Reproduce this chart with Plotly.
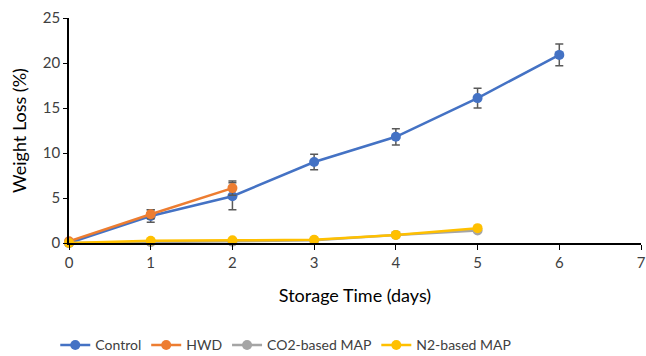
import plotly.graph_objects as go

days_control = [0, 1, 2, 3, 4, 5, 6]
control = [0.0, 3.0, 5.2, 9.0, 11.8, 16.1, 20.9]
control_err = [0.0, 0.7, 1.5, 0.85, 0.9, 1.1, 1.2]

days_hwd = [0, 1, 2]
hwd = [0.2, 3.2, 6.1]
hwd_err = [0.1, 0.5, 0.8]

days_map = [0, 1, 2, 3, 4, 5]
co2_map = [0.0, 0.1, 0.15, 0.3, 0.9, 1.4]
n2_map = [0.0, 0.25, 0.3, 0.35, 0.9, 1.65]

x_ticks = [0, 1, 2, 3, 4, 5, 6, 7]
y_ticks = [0, 5, 10, 15, 20, 25]

err_color = "#595959"
fig = go.Figure()

def add(name, x, y, color, err=None):
    kw = {}
    if err is not None:
        kw["error_y"] = dict(type="data", array=err, visible=True, color=err_color,
                             thickness=1.5, width=4)
    fig.add_trace(go.Scatter(
        x=x, y=y, name=name, mode="lines+markers",
        line=dict(color=color, width=2.5),
        marker=dict(color=color, size=10),
        cliponaxis=False, **kw))

add("Control", days_control, control, "#4472C4", control_err)
add("HWD", days_hwd, hwd, "#ED7D31", hwd_err)
add("CO2-based MAP", days_map, co2_map, "#A5A5A5")
add("N2-based MAP", days_map, n2_map, "#FFC000")

font = "Lato, Open Sans, sans-serif"
fig.update_layout(
    width=646, height=356,
    margin=dict(l=69, r=5, t=18, b=113, autoexpand=False),
    plot_bgcolor="white", paper_bgcolor="white",
    font=dict(family=font, color="#404040", size=15),
    showlegend=True,
    legend=dict(orientation="h", x=-0.024, xanchor="left", y=-0.455, yanchor="middle",
                font=dict(size=14, color="#404040"), itemwidth=30, tracegroupgap=0),
    xaxis=dict(range=[0, 7], tickvals=x_ticks, showgrid=False, zeroline=False,
               showline=True, linecolor="black", linewidth=1.5,
               ticks="outside", ticklen=5, tickcolor="black", automargin=False,
               ticklabeloverflow="allow",
               tickfont=dict(size=15, color="#404040"),
               title=dict(text="Storage Time (days)", font=dict(size=18, color="#000000"), standoff=20)),
    yaxis=dict(range=[0, 25], tickvals=y_ticks, showgrid=False, zeroline=False,
               showline=True, linecolor="black", linewidth=1.5,
               ticks="outside", ticklen=4, tickcolor="black", automargin=False,
               tickfont=dict(size=15, color="#404040"),
               title=dict(text="Weight Loss (%)", font=dict(size=18, color="#000000"), standoff=12)),
)

fig.write_html("out.html", config={"displayModeBar": False},
               post_script="document.body.style.margin='0';")
